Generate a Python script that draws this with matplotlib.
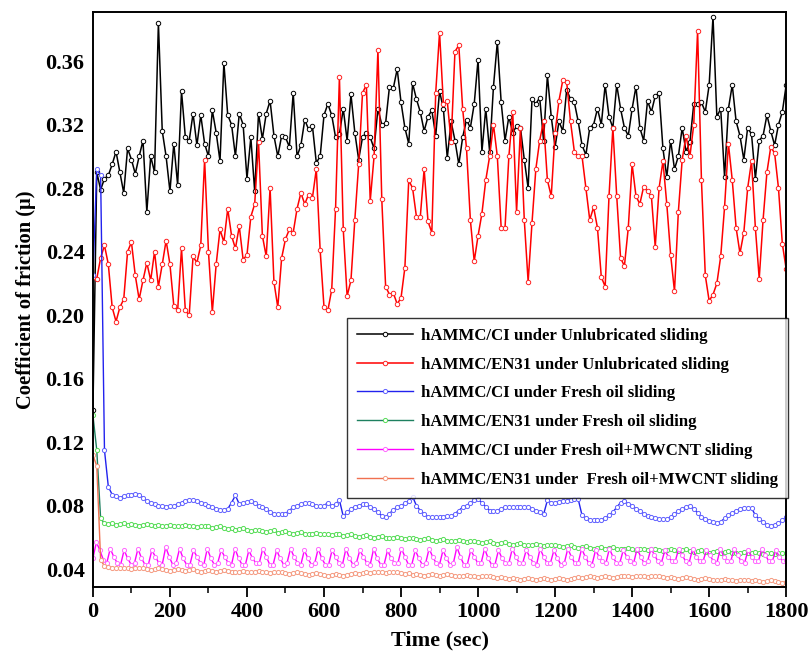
import numpy as np
import matplotlib
matplotlib.use("Agg")
import matplotlib.pyplot as plt
from matplotlib.ticker import MultipleLocator

plt.rcParams['font.family'] = ['Liberation Serif', 'DejaVu Serif']
plt.rcParams['font.weight'] = 'bold'

# ---------------- data ----------------
t10 = np.arange(0, 1801, 10)      # 10-s sampling grid
t9 = np.arange(0, 1801, 9)        # 9-s sampling grid (MWCNT/CI series)

ci_unlub = [
    0.140, 0.290, 0.279, 0.286, 0.288, 0.295, 0.303, 0.290, 0.277, 0.305,
    0.298, 0.289, 0.300, 0.310, 0.265, 0.300, 0.290, 0.384, 0.316, 0.300,
    0.278, 0.308, 0.282, 0.341, 0.312, 0.310, 0.327, 0.307, 0.326, 0.308,
    0.300, 0.329, 0.315, 0.297, 0.359, 0.326, 0.320, 0.300, 0.327, 0.320,
    0.286, 0.312, 0.278, 0.327, 0.311, 0.327, 0.335, 0.313, 0.300, 0.313,
    0.312, 0.306, 0.340, 0.300, 0.307, 0.323, 0.317, 0.319, 0.296, 0.300,
    0.326, 0.333, 0.326, 0.312, 0.314, 0.330, 0.310, 0.339, 0.315, 0.298,
    0.312, 0.315, 0.312, 0.305, 0.330, 0.320, 0.321, 0.344, 0.343, 0.355,
    0.334, 0.318, 0.308, 0.346, 0.336, 0.328, 0.316, 0.325, 0.329, 0.313,
    0.341, 0.330, 0.299, 0.322, 0.310, 0.295, 0.312, 0.323, 0.318, 0.333,
    0.361, 0.303, 0.330, 0.303, 0.344, 0.372, 0.334, 0.310, 0.325, 0.315,
    0.319, 0.318, 0.298, 0.280, 0.336, 0.333, 0.337, 0.310, 0.351, 0.325,
    0.306, 0.322, 0.316, 0.342, 0.336, 0.334, 0.322, 0.307, 0.301, 0.318,
    0.320, 0.330, 0.320, 0.345, 0.325, 0.318, 0.345, 0.330, 0.318, 0.313,
    0.330, 0.344, 0.318, 0.310, 0.335, 0.328, 0.338, 0.340, 0.305, 0.287,
    0.310, 0.292, 0.300, 0.318, 0.303, 0.309, 0.333, 0.333, 0.334, 0.328,
    0.345, 0.388, 0.325, 0.330, 0.287, 0.330, 0.345, 0.322, 0.313, 0.298,
    0.318, 0.314, 0.286, 0.310, 0.313, 0.326, 0.316, 0.307, 0.320, 0.328,
    0.345]

en31_unlub = [
    0.224, 0.223, 0.236, 0.244, 0.232, 0.205, 0.196, 0.205, 0.210, 0.240,
    0.246, 0.225, 0.210, 0.222, 0.233, 0.222, 0.240, 0.218, 0.232, 0.247,
    0.232, 0.206, 0.203, 0.242, 0.203, 0.200, 0.237, 0.233, 0.244, 0.298,
    0.240, 0.202, 0.232, 0.254, 0.246, 0.267, 0.250, 0.242, 0.256, 0.235,
    0.238, 0.262, 0.270, 0.309, 0.250, 0.237, 0.280, 0.221, 0.205, 0.236,
    0.248, 0.254, 0.252, 0.267, 0.277, 0.270, 0.276, 0.274, 0.292, 0.241,
    0.205, 0.203, 0.216, 0.267, 0.350, 0.254, 0.212, 0.222, 0.260, 0.295,
    0.340, 0.345, 0.272, 0.300, 0.367, 0.273, 0.218, 0.213, 0.214, 0.207,
    0.211, 0.230, 0.285, 0.280, 0.262, 0.262, 0.292, 0.259, 0.252, 0.340,
    0.378, 0.333, 0.335, 0.309, 0.366, 0.370, 0.330, 0.305, 0.260, 0.234,
    0.250, 0.264, 0.285, 0.300, 0.320, 0.300, 0.255, 0.255, 0.300, 0.328,
    0.265, 0.318, 0.260, 0.221, 0.258, 0.292, 0.310, 0.322, 0.285, 0.275,
    0.315, 0.335, 0.348, 0.347, 0.322, 0.303, 0.300, 0.300, 0.280, 0.260,
    0.268, 0.255, 0.224, 0.218, 0.275, 0.318, 0.275, 0.236, 0.231, 0.255,
    0.295, 0.275, 0.270, 0.281, 0.278, 0.275, 0.243, 0.280, 0.297, 0.270,
    0.238, 0.215, 0.265, 0.298, 0.313, 0.300, 0.320, 0.379, 0.285, 0.225,
    0.209, 0.213, 0.220, 0.237, 0.268, 0.308, 0.285, 0.255, 0.239, 0.252,
    0.280, 0.297, 0.255, 0.223, 0.260, 0.290, 0.306, 0.302, 0.280, 0.245,
    0.229]

ci_oil = [
    0.225, 0.292, 0.288, 0.115, 0.092, 0.087, 0.086, 0.085, 0.086, 0.0866,
    0.087, 0.0875, 0.087, 0.085, 0.083, 0.082, 0.081, 0.080, 0.0797, 0.0795,
    0.0797, 0.080, 0.081, 0.082, 0.083, 0.0836, 0.0836, 0.083, 0.082, 0.081,
    0.080, 0.079, 0.0778, 0.0774, 0.0776, 0.078, 0.082, 0.0865, 0.081, 0.0815,
    0.0825, 0.083, 0.082, 0.080, 0.0795, 0.078, 0.076, 0.0746, 0.0745, 0.0748,
    0.075, 0.077, 0.079, 0.080, 0.081, 0.0818, 0.082, 0.081, 0.080, 0.0797,
    0.080, 0.082, 0.080, 0.081, 0.0836, 0.0733, 0.076, 0.078, 0.0795, 0.080,
    0.081, 0.081, 0.079, 0.078, 0.076, 0.0735, 0.0727, 0.075, 0.0776, 0.079,
    0.080, 0.0815, 0.083, 0.0858, 0.080, 0.077, 0.075, 0.073, 0.0727, 0.0727,
    0.073, 0.073, 0.0733, 0.0733, 0.075, 0.077, 0.079, 0.080, 0.082, 0.0835,
    0.0841, 0.082, 0.0795, 0.077, 0.0768, 0.077, 0.078, 0.079, 0.079, 0.079,
    0.079, 0.079, 0.079, 0.079, 0.078, 0.077, 0.076, 0.0745, 0.0834, 0.082,
    0.082, 0.0825, 0.083, 0.083, 0.0835, 0.084, 0.0841, 0.074, 0.072, 0.0713,
    0.071, 0.0708, 0.071, 0.0725, 0.074, 0.076, 0.079, 0.082, 0.083, 0.081,
    0.080, 0.078, 0.0765, 0.075, 0.0735, 0.073, 0.072, 0.0718, 0.0715, 0.0715,
    0.073, 0.075, 0.0767, 0.078, 0.079, 0.080, 0.078, 0.0755, 0.073, 0.0715,
    0.0705, 0.0698, 0.069, 0.070, 0.072, 0.074, 0.0755, 0.077, 0.078, 0.0786,
    0.0786, 0.0786, 0.074, 0.0715, 0.070, 0.068, 0.0673, 0.068, 0.069, 0.071,
    0.0727]

en31_oil = [
    0.137, 0.115, 0.072,
    0.069, 0.0685, 0.069, 0.068, 0.0685, 0.069, 0.068, 0.0685, 0.068, 0.0675,
    0.068, 0.0685, 0.068, 0.0675, 0.068, 0.067, 0.0675, 0.068, 0.067, 0.0675,
    0.067, 0.068, 0.0675, 0.067, 0.0665, 0.067, 0.0675,
    0.067, 0.066, 0.0665, 0.067, 0.066, 0.0655, 0.066, 0.065, 0.0655, 0.066,
    0.065, 0.064, 0.0645, 0.065, 0.064, 0.0635, 0.064, 0.0645, 0.063, 0.0635,
    0.064, 0.063, 0.0625, 0.063, 0.0635, 0.0625, 0.062, 0.0625, 0.063, 0.062,
    0.0625, 0.062, 0.0615, 0.062, 0.0625, 0.061, 0.0615, 0.062, 0.061, 0.0605,
    0.061, 0.0615, 0.0605, 0.060, 0.0605, 0.061, 0.060, 0.0595, 0.060, 0.0605,
    0.0595, 0.059, 0.0595, 0.060, 0.059, 0.0585, 0.059, 0.0595, 0.0585, 0.058,
    0.0585, 0.059, 0.058, 0.0575, 0.058, 0.0585, 0.0575, 0.057, 0.0575, 0.058,
    0.057, 0.0565, 0.057, 0.0575, 0.0565, 0.056, 0.0565, 0.057, 0.056, 0.0555,
    0.056, 0.0565, 0.0555, 0.055, 0.0555, 0.056, 0.055, 0.0545, 0.055, 0.0555,
    0.055, 0.0545, 0.054, 0.0545, 0.055, 0.054, 0.0535, 0.054, 0.0545, 0.0535,
    0.053, 0.0535, 0.054, 0.053, 0.0535, 0.054, 0.053, 0.0525, 0.053, 0.0535,
    0.0525, 0.052, 0.0525, 0.053, 0.052, 0.0525, 0.053, 0.052, 0.0515, 0.052,
    0.0525, 0.052, 0.0515, 0.052, 0.0525, 0.0515, 0.051, 0.0515, 0.052, 0.051,
    0.0505, 0.051, 0.0515, 0.0505, 0.051, 0.0515, 0.0505, 0.050, 0.0505, 0.051,
    0.050, 0.0505, 0.051, 0.050, 0.0495, 0.050, 0.0505, 0.0495, 0.050, 0.0505,
    0.050]

ci_mwcnt = [
    0.047, 0.057, 0.052, 0.046,
    0.044, 0.053, 0.048, 0.044,  0.043, 0.052, 0.047, 0.043,
    0.044, 0.053, 0.047, 0.043,  0.043, 0.052, 0.048, 0.044,
    0.043, 0.054, 0.048, 0.043,  0.044, 0.053, 0.047, 0.043,
    0.043, 0.052, 0.048, 0.044,  0.043, 0.053, 0.047, 0.043,
    0.044, 0.052, 0.048, 0.044,  0.043, 0.053, 0.047, 0.043,
    0.043, 0.052, 0.047, 0.044,  0.044, 0.053, 0.048, 0.043,
    0.043, 0.052, 0.047, 0.043,  0.044, 0.053, 0.048, 0.044,
    0.043, 0.052, 0.047, 0.043,  0.044, 0.053, 0.047, 0.043,
    0.043, 0.052, 0.048, 0.044,  0.043, 0.053, 0.047, 0.043,
    0.044, 0.052, 0.048, 0.044,  0.043, 0.053, 0.047, 0.043,
    0.043, 0.052, 0.047, 0.044,  0.044, 0.053, 0.048, 0.043,
    0.043, 0.052, 0.047, 0.043,  0.044, 0.053, 0.048, 0.044,
    0.043, 0.052, 0.047, 0.043,  0.044, 0.054, 0.048, 0.043,
    0.043, 0.052, 0.048, 0.044,  0.044, 0.053, 0.047, 0.043,
    0.043, 0.052, 0.047, 0.044,  0.044, 0.053, 0.048, 0.044,
    0.044, 0.052, 0.048, 0.044,  0.043, 0.053, 0.048, 0.044,
    0.044, 0.052, 0.047, 0.043,  0.044, 0.053, 0.048, 0.044,
    0.044, 0.053, 0.048, 0.044,  0.043, 0.052, 0.048, 0.045,
    0.044, 0.053, 0.048, 0.044,  0.044, 0.052, 0.048, 0.045,
    0.044, 0.053, 0.048, 0.044,  0.045, 0.053, 0.049, 0.045,
    0.044, 0.052, 0.048, 0.045,  0.045, 0.053, 0.049, 0.045,
    0.044, 0.053, 0.048, 0.045,  0.045, 0.052, 0.049, 0.045,
    0.044, 0.053, 0.048, 0.045,  0.045, 0.053, 0.049, 0.045,
    0.044, 0.052, 0.048, 0.045,  0.045, 0.053, 0.049, 0.045,
    0.045, 0.052, 0.048, 0.045,
    0.046]

en31_mwcnt = [
    0.112, 0.105, 0.046, 0.042,
    0.0415, 0.041, 0.041, 0.0405, 0.041, 0.0405, 0.040, 0.0405, 0.041, 0.0405,
    0.040, 0.0395, 0.040, 0.0405, 0.040, 0.0395, 0.039, 0.0395, 0.040, 0.0395,
    0.039, 0.0395, 0.040, 0.039, 0.0385, 0.039,
    0.0395, 0.039, 0.0385, 0.039, 0.0395, 0.039, 0.0385, 0.038, 0.0385, 0.039,
    0.0385, 0.038, 0.0385, 0.039, 0.0385, 0.038, 0.0375, 0.038, 0.0385, 0.038,
    0.0375, 0.037, 0.0375, 0.038, 0.0375, 0.037, 0.0365, 0.037, 0.0375, 0.037,
    0.0365, 0.036, 0.0365, 0.037, 0.0365, 0.036, 0.0365, 0.037, 0.0375, 0.037,
    0.0375, 0.038, 0.0375, 0.038, 0.0385, 0.038, 0.0375, 0.038, 0.0385, 0.038,
    0.0375, 0.037, 0.0375, 0.0365, 0.037, 0.0365, 0.036, 0.0365, 0.037, 0.0365,
    0.036, 0.0365, 0.037, 0.0365, 0.036, 0.0355, 0.036, 0.0365, 0.036, 0.0355,
    0.035, 0.0355, 0.036, 0.0355, 0.035, 0.0345, 0.035, 0.0345, 0.034, 0.0345,
    0.034, 0.0335, 0.034, 0.0345, 0.034, 0.0335, 0.034, 0.0345, 0.034, 0.0335,
    0.034, 0.0345, 0.034, 0.0335, 0.034, 0.0345, 0.035, 0.0345, 0.035, 0.0355,
    0.035, 0.0345, 0.035, 0.0355, 0.035, 0.0345, 0.035, 0.0355, 0.036, 0.0355,
    0.035, 0.0355, 0.036, 0.0355, 0.035, 0.0355, 0.036, 0.0355, 0.035, 0.0345,
    0.035, 0.0345, 0.034, 0.0345, 0.035, 0.0345, 0.034, 0.0335, 0.034, 0.0345,
    0.034, 0.0335, 0.033, 0.0335, 0.034, 0.0335, 0.033, 0.0325, 0.033, 0.0335,
    0.033, 0.0325, 0.033, 0.0325, 0.032, 0.0325, 0.033, 0.0325, 0.032, 0.0315,
    0.032]

labels = [
    "hAMMC/CI under Unlubricated sliding",
    "hAMMC/EN31 under Unlubricated sliding",
    "hAMMC/CI under Fresh oil sliding",
    "hAMMC/EN31 under Fresh oil sliding",
    "hAMMC/CI under Fresh oil+MWCNT sliding",
    "hAMMC/EN31 under  Fresh oil+MWCNT sliding",
]
xticks = [0, 200, 400, 600, 800, 1000, 1200, 1400, 1600, 1800]
yticks = [0.04, 0.08, 0.12, 0.16, 0.20, 0.24, 0.28, 0.32, 0.36]

# ---------------- plot ----------------
fig = plt.figure(figsize=(8.08, 6.60), dpi=100)
ax = fig.add_axes([0.115, 0.111, 0.858, 0.871])

series = [
    (t10, ci_unlub, '#000000', '#000000'),
    (t10, en31_unlub, '#ff0000', '#ff2020'),
    (t10, ci_oil, '#2222ee', '#6060ff'),
    (t10, en31_oil, '#1e8060', '#55dd55'),
    (t9, ci_mwcnt, '#ff00ff', '#ff66ff'),
    (t10, en31_mwcnt, '#f07050', '#f59a80'),
]
handles = []
for i, (tt, yy, lc, mc) in enumerate(series):
    if i < 2:
        ms, lw = 3.2, 1.1
    else:
        ms, lw = 3.0, 1.0
    h, = ax.plot(tt, yy, color=lc, lw=lw, marker='o', ms=ms,
                 mfc='white', mec=mc, mew=0.7, label=labels[i])
    handles.append(h)

ax.set_xlim(0, 1800)
ax.set_ylim(0.029, 0.391)
ax.set_xticks(xticks)
ax.set_yticks(yticks)
ax.set_yticklabels([f"{v:.2f}" for v in yticks])
ax.xaxis.set_minor_locator(MultipleLocator(100))
ax.tick_params(axis='x', which='major', direction='out', length=7, width=1.3,
               labelsize=16, pad=4)
ax.tick_params(axis='x', which='minor', direction='out', length=4, width=1.1)
ax.tick_params(axis='y', which='major', direction='in', length=0, labelsize=16, pad=6)
for lab in ax.get_xticklabels() + ax.get_yticklabels():
    lab.set_fontweight('bold')
for s in ax.spines.values():
    s.set_linewidth(1.4)

ax.set_xlabel("Time (sec)", fontsize=16, fontweight='bold', labelpad=6)
ax.set_ylabel("Coefficient of friction (\u03bc)", fontsize=14.8, fontweight='bold', labelpad=7)

leg = ax.legend(handles=handles, loc='upper left', bbox_to_anchor=(0.367, 0.468),
                borderaxespad=0, frameon=True, fancybox=False,
                edgecolor='black', handlelength=3.3, handletextpad=0.5,
                labelspacing=0.76, borderpad=0.6, numpoints=1,
                prop={'weight': 'bold', 'size': 12.1})
leg.get_frame().set_linewidth(1.0)

fig.savefig("out.png", dpi=100)
